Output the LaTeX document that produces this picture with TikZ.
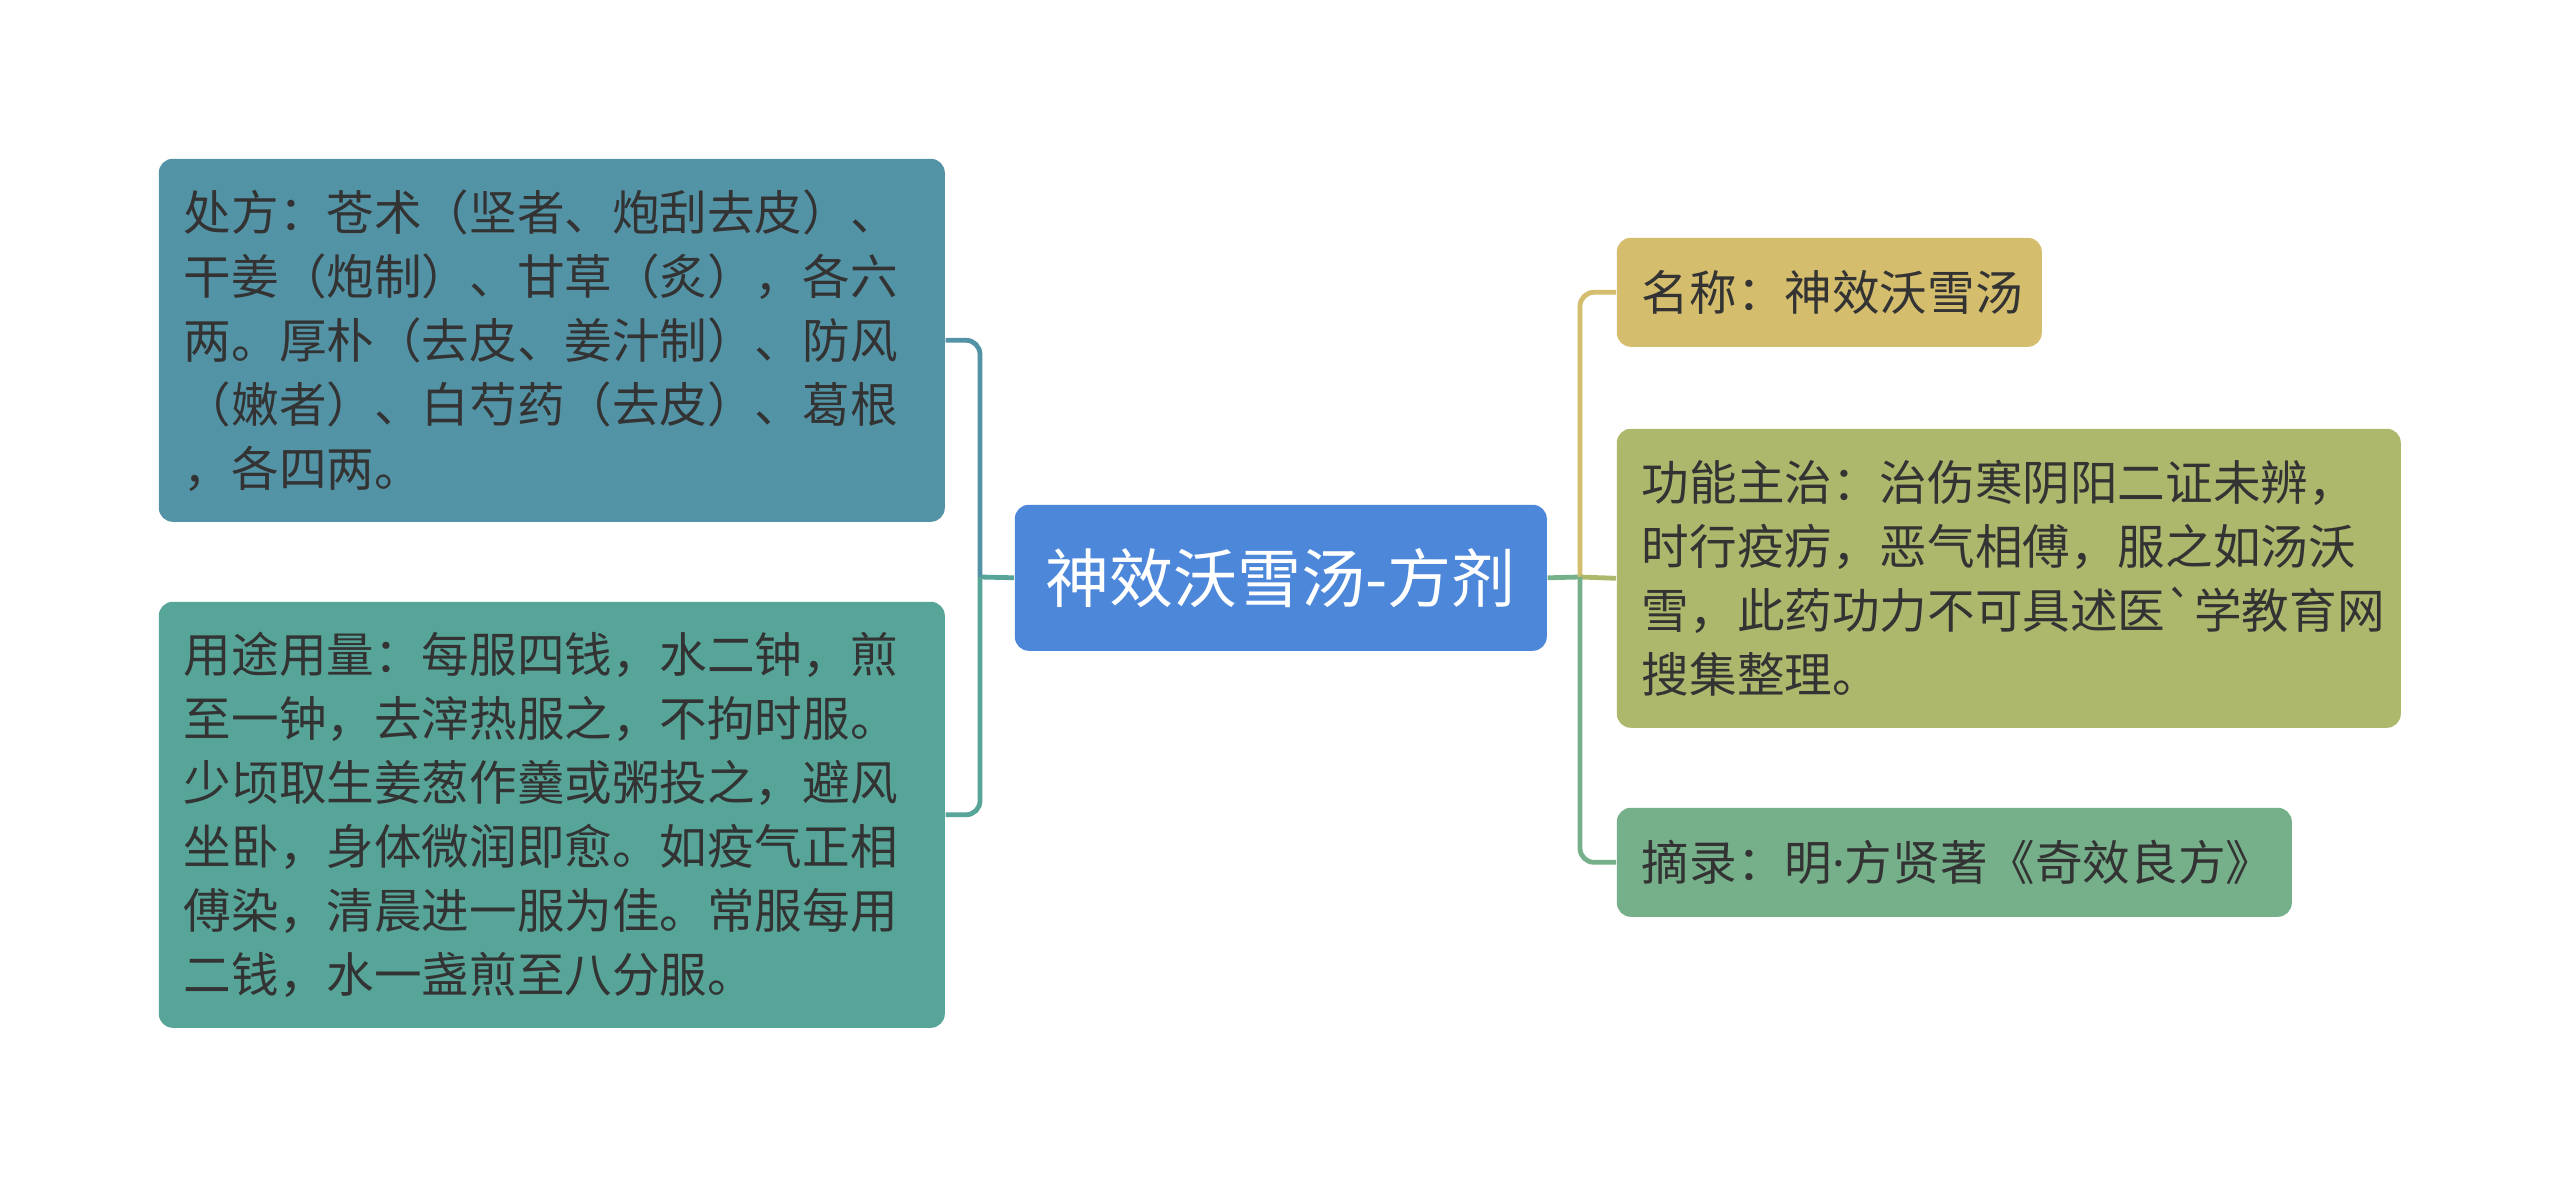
\documentclass[tikz,border=0pt]{standalone}
\usepackage{fontspec}
\setmainfont{Noto Sans CJK SC}
\newfontfamily\latinfont{Noto Sans}
\usepackage{tikz}
\usetikzlibrary{positioning}
\usepackage{xcolor}
\definecolor{rootblue}{HTML}{4D87DA}
\definecolor{recipeteal}{HTML}{5393A6}
\definecolor{doseteal}{HTML}{56A598}
\definecolor{nameyellow}{HTML}{D4BD6D}
\definecolor{funcolive}{HTML}{AEB86C}
\definecolor{sourcegreen}{HTML}{75B08A}
\definecolor{inktext}{HTML}{333333}

\begin{document}
\begin{tikzpicture}[
  x=0.25pt, y=-0.25pt,
  font=\fontsize{11.9pt}{16pt}\selectfont,
  leafcard/.style={
    rounded corners=3.5pt,
    inner xsep=6.25pt,
    inner ysep=0pt,
    align=left,
    text=inktext,
    anchor=north west
  },
  rootcard/.style={
    fill=rootblue,
    rounded corners=3.5pt,
    minimum width=133pt,
    minimum height=36.5pt,
    inner sep=0pt,
    text=white,
    font=\fontsize{16pt}{19pt}\selectfont,
    anchor=north west
  },
  branchline/.style={
    line width=1.2pt,
    rounded corners=3.5pt
  }
]
  \fill[white] (0,0) rectangle (2560,1187);
  \useasboundingbox (0,0) rectangle (2560,1187);

  % ----------------------------------------------------
  % ROOT
  % ----------------------------------------------------
  \node[rootcard] (root) at (1014,504) {神效沃雪汤-方剂};

  % ----------------------------------------------------
  % LEFT BRANCHES
  % ----------------------------------------------------
  \node[leafcard, fill=recipeteal, text width=184pt, minimum height=90.75pt] (recipe) at (158,158) {
    处方：苍术（坚者、炮刮去皮）、\\
    干姜（炮制）、甘草（炙），各六\\
    两。厚朴（去皮、姜汁制）、防风\\
    （嫩者）、白芍药（去皮）、葛根\\
    ，各四两。};

  \node[leafcard, fill=doseteal, text width=184pt, minimum height=106.5pt] (dose) at (158,601) {
    用途用量：每服四钱，水二钟，煎\\
    至一钟，去滓热服之，不拘时服。\\
    少顷取生姜葱作羹或粥投之，避风\\
    坐卧，身体微润即愈。如疫气正相\\
    傅染，清晨进一服为佳。常服每用\\
    二钱，水一盏煎至八分服。};

  % ----------------------------------------------------
  % RIGHT BRANCHES
  % ----------------------------------------------------
  \node[leafcard, fill=nameyellow, text width=93.75pt, minimum height=27.25pt] (name) at (1616,237) {
    名称：神效沃雪汤};

  \node[leafcard, fill=funcolive, text width=183.5pt, minimum height=74.75pt] (func) at (1616,428) {
    功能主治：治伤寒阴阳二证未辨，\\
    时行疫疠，恶气相傅，服之如汤沃\\
    雪，此药功力不可具述医\textasciigrave 学教育网\\
    搜集整理。};

  \node[leafcard, fill=sourcegreen, text width=156.25pt, minimum height=27.25pt] (source) at (1616,807) {
    摘录：明{\latinfont ·}方贤著《奇效良方》};

  % ----------------------------------------------------
  % CONNECTORS
  % ----------------------------------------------------
  \coordinate (ljoint) at (980,577);
  \coordinate (rjoint) at (1580,577);

  \draw[branchline, draw=doseteal] (root.west) -- (ljoint);
  \draw[branchline, draw=recipeteal] (ljoint) |- (recipe.east);
  \draw[branchline, draw=doseteal] (ljoint) |- (dose.east);

  \draw[branchline, draw=sourcegreen] (root.east) -- (rjoint);
  \draw[branchline, draw=nameyellow] (rjoint) |- (name.west);
  \draw[branchline, draw=funcolive] (rjoint) -- (func.west);
  \draw[branchline, draw=sourcegreen] (rjoint) |- (source.west);

\end{tikzpicture}
\end{document}
